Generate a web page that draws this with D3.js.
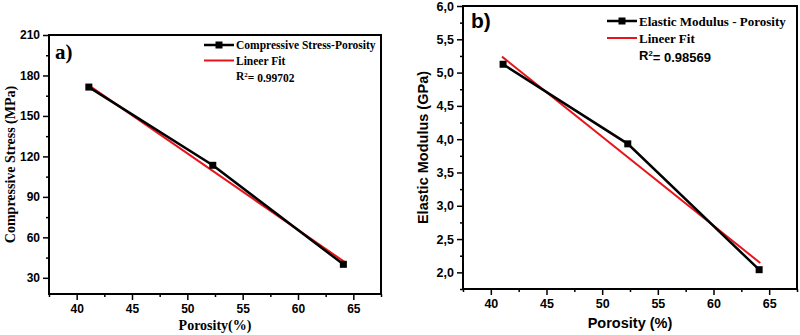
<!DOCTYPE html>
<html>
<head>
<meta charset="utf-8">
<script src="https://cdn.jsdelivr.net/npm/d3@7"></script>
<style>
  body { margin: 0; background: #fff; }
  svg { display: block; }
</style>
</head>
<body>
<div class="chart"></div>
<script>
// Data
const porosity = [41.1, 52.3, 64.1];
const compressiveStress = [171.4, 113.4, 40.0];
const elasticModulus = [5.125, 3.93, 2.04];

// Linear fit end points
const stressFitX = [41.0, 64.2];
const stressFitY = [173.2, 41.8];
const modulusFitX = [41.0, 64.2];
const modulusFitY = [5.24, 2.14];

// Tick labels
const xTicks = [40, 45, 50, 55, 60, 65];
const xMinorTicks = [37.5, 42.5, 47.5, 52.5, 57.5, 62.5, 67.5];
const stressTicks = [30, 60, 90, 120, 150, 180, 210];
const stressMinorTicks = [45, 75, 105, 135, 165, 195];
const modulusTicks = [2.0, 2.5, 3.0, 3.5, 4.0, 4.5, 5.0, 5.5, 6.0];
const modulusMinorTicks = [1.75, 2.25, 2.75, 3.25, 3.75, 4.25, 4.75, 5.25, 5.75];

const serif = "'Liberation Serif', 'Times New Roman', serif";
const sans = "'Liberation Sans', Arial, sans-serif";

const svg = d3.select(".chart")
    .append("svg")
    .attr("width", 800)
    .attr("height", 335);

function drawPanel(p) {
    const g = svg.append("g");

    const x = d3.scaleLinear().domain([37.5, 67.5]).range([p.left, p.right]);
    const y = d3.scaleLinear().domain(p.yDomain).range([p.bottom, p.top]);

    // minor ticks
    g.append("g")
        .attr("transform", "translate(0," + p.bottom + ")")
        .call(d3.axisBottom(x).tickValues(xMinorTicks).tickSize(3).tickFormat(""))
        .call(a => a.select(".domain").remove())
        .call(a => a.selectAll("line").attr("stroke-width", 1.5));
    g.append("g")
        .attr("transform", "translate(" + p.left + ",0)")
        .call(d3.axisLeft(y).tickValues(p.yMinor).tickSize(3).tickFormat(""))
        .call(a => a.select(".domain").remove())
        .call(a => a.selectAll("line").attr("stroke-width", 1.5));

    // major ticks
    g.append("g")
        .attr("transform", "translate(0," + p.bottom + ")")
        .call(d3.axisBottom(x).tickValues(xTicks).tickSize(6).tickPadding(4))
        .call(a => a.select(".domain").remove())
        .call(a => a.selectAll("line").attr("stroke-width", 1.5))
        .call(a => a.selectAll("text")
            .style("font-family", sans)
            .style("font-weight", "bold")
            .style("font-size", p.tickSize + "px")
            .attr("fill", "#000"));
    g.append("g")
        .attr("transform", "translate(" + p.left + ",0)")
        .call(d3.axisLeft(y).tickValues(p.yTicks).tickSize(6).tickPadding(3).tickFormat(p.yFormat))
        .call(a => a.select(".domain").remove())
        .call(a => a.selectAll("line").attr("stroke-width", 1.5))
        .call(a => a.selectAll("text")
            .style("font-family", sans)
            .style("font-weight", "bold")
            .style("font-size", p.tickSize + "px")
            .attr("fill", "#000"));

    // frame
    g.append("rect")
        .attr("x", p.left)
        .attr("y", p.top)
        .attr("width", p.right - p.left)
        .attr("height", p.bottom - p.top)
        .attr("fill", "none")
        .attr("stroke", "#000")
        .attr("stroke-width", 2);

    // fit line
    const fit = p.fitX.map((v, i) => [v, p.fitY[i]]);
    g.append("path")
        .datum(fit)
        .attr("fill", "none")
        .attr("stroke", "#e8141b")
        .attr("stroke-width", 2)
        .attr("d", d3.line().x(d => x(d[0])).y(d => y(d[1])));

    // data line
    const pts = porosity.map((v, i) => [v, p.values[i]]);
    g.append("path")
        .datum(pts)
        .attr("fill", "none")
        .attr("stroke", "#000")
        .attr("stroke-width", 2.5)
        .attr("d", d3.line().x(d => x(d[0])).y(d => y(d[1])));
    g.selectAll(".marker")
        .data(pts)
        .join("rect")
        .attr("class", "marker")
        .attr("x", d => x(d[0]) - 3.5)
        .attr("y", d => y(d[1]) - 3.5)
        .attr("width", 7)
        .attr("height", 7)
        .attr("fill", "#000");

    // panel letter
    g.append("text")
        .attr("x", p.letterX)
        .attr("y", p.letterY)
        .text(p.letter)
        .style("font-family", p.letterFont)
        .style("font-weight", "bold")
        .style("font-size", "21px");

    // axis labels
    g.append("text")
        .attr("x", (p.left + p.right) / 2)
        .attr("y", p.xLabelY)
        .attr("text-anchor", "middle")
        .text(p.xLabel)
        .style("font-family", p.labelFont)
        .style("font-weight", "bold")
        .style("font-size", p.labelSize + "px");
    g.append("text")
        .attr("transform", "translate(" + p.yLabelX + "," + (p.top + p.bottom) / 2 + ") rotate(-90)")
        .attr("text-anchor", "middle")
        .attr("dy", "0.35em")
        .text(p.yLabel)
        .style("font-family", p.labelFont)
        .style("font-weight", "bold")
        .style("font-size", p.labelSize + "px");

    // legend
    const lg = g.append("g").attr("transform", "translate(" + p.legX + "," + p.legY + ")");
    lg.append("line")
        .attr("x1", 0).attr("x2", 30).attr("y1", 0).attr("y2", 0)
        .attr("stroke", "#000").attr("stroke-width", 2.5);
    lg.append("rect")
        .attr("x", 11.5).attr("y", -3.5).attr("width", 7).attr("height", 7)
        .attr("fill", "#000");
    lg.append("text")
        .attr("x", 32).attr("y", 0).attr("dy", "0.35em")
        .text(p.seriesName)
        .style("font-family", serif)
        .style("font-weight", "bold")
        .style("font-size", p.legSize + "px");
    lg.append("line")
        .attr("x1", 0).attr("x2", 30).attr("y1", p.legStep).attr("y2", p.legStep)
        .attr("stroke", "#e8141b").attr("stroke-width", 2);
    lg.append("text")
        .attr("x", 32).attr("y", p.legStep).attr("dy", "0.35em")
        .text("Lineer Fit")
        .style("font-family", serif)
        .style("font-weight", "bold")
        .style("font-size", p.legSize + "px");
    const r2 = lg.append("text")
        .attr("x", 32).attr("y", p.legStep * 2).attr("dy", "0.35em")
        .style("font-family", p.r2Font)
        .style("font-weight", "bold")
        .style("font-size", p.legSize + "px");
    r2.append("tspan").text("R");
    r2.append("tspan").text("2").attr("dy", "-0.4em").style("font-size", (p.legSize * 0.6) + "px");
    r2.append("tspan").text("= " + p.r2).attr("dy", "0.4em");
}

drawPanel({
    left: 49, right: 381, top: 35, bottom: 294,
    yDomain: [18, 210], yTicks: stressTicks, yMinor: stressMinorTicks,
    yFormat: d3.format("d"), values: compressiveStress,
    fitX: stressFitX, fitY: stressFitY,
    tickSize: 12, labelSize: 14, labelFont: serif,
    xLabel: "Porosity(%)", xLabelY: 330, yLabel: "Compressive Stress (MPa)", yLabelX: 10,
    letter: "a)", letterX: 55, letterY: 59, letterFont: serif,
    legX: 204, legY: 45, legStep: 15.5, legSize: 11.5,
    seriesName: "Compressive Stress-Porosity", r2: "0.99702", r2Font: serif
});

drawPanel({
    left: 463, right: 797, top: 6, bottom: 289,
    yDomain: [1.75, 6.0], yTicks: modulusTicks, yMinor: modulusMinorTicks,
    yFormat: d => d3.format(".1f")(d).replace(".", ","), values: elasticModulus,
    fitX: modulusFitX, fitY: modulusFitY,
    tickSize: 12.5, labelSize: 14.5, labelFont: sans,
    xLabel: "Porosity (%)", xLabelY: 328, yLabel: "Elastic Modulus (GPa)", yLabelX: 423,
    letter: "b)", letterX: 471, letterY: 28, letterFont: sans,
    legX: 607, legY: 21, legStep: 17, legSize: 13,
    seriesName: "Elastic Modulus - Porosity", r2: "0.98569", r2Font: sans
});
</script>
</body>
</html>
